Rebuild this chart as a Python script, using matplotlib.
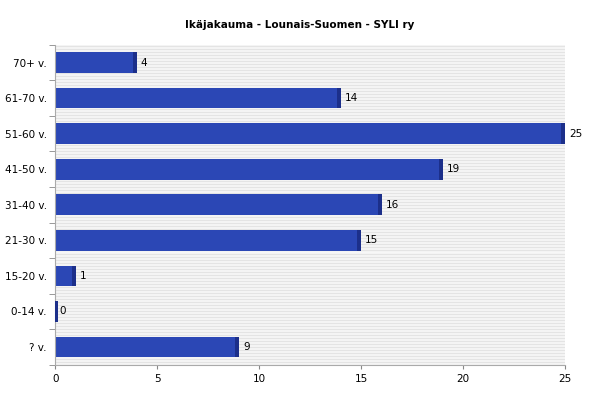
import numpy as np
import matplotlib.pyplot as plt

categories = ["70+ v.", "61-70 v.", "51-60 v.", "41-50 v.", "31-40 v.",
              "21-30 v.", "15-20 v.", "0-14 v.", "? v."]
counts = [4, 14, 25, 19, 16, 15, 1, 0, 9]

fig = plt.figure(figsize=(6, 4), dpi=100)
ax = fig.add_axes([0.092, 0.088, 0.85, 0.8])
n = len(categories)
ypos = np.arange(n)[::-1]

# striped background
ax.set_facecolor("#f7f7f7")
stripes = np.arange(0, 1, 0.0094)
ax.hlines(stripes, 0, 1, colors="#e4e4e4", lw=0.9, transform=ax.transAxes, zorder=0)

ax.barh(ypos, counts, height=0.58, color="#2b47b5", zorder=2)
# dark right edge band
edge = 0.2
ax.barh(ypos, [edge if c > 0 else 0.12 for c in counts],
        left=[max(c - edge, 0) for c in counts], height=0.58, color="#1c2f8a", zorder=3)
for y, c in zip(ypos, counts):
    ax.text(c + 0.2, y, str(c), va="center", fontsize=7.5, zorder=4, clip_on=False)

ax.set_xlim(0, 25)
ax.set_ylim(-0.5, n - 0.5)
ax.set_xticks([0, 5, 10, 15, 20, 25])
ax.set_yticks(ypos)
ax.set_yticklabels(categories)
ax.set_yticks(np.arange(n + 1) - 0.5, minor=True)
ax.tick_params(axis="y", which="major", length=0, labelsize=7.5, pad=6)
ax.tick_params(axis="y", which="minor", length=4, color="#888888")
ax.tick_params(axis="x", labelsize=7.5, length=3, color="#888888")
for s in ["top", "right"]:
    ax.spines[s].set_visible(False)
ax.spines["left"].set_color("#aaaaaa")
ax.spines["bottom"].set_color("#aaaaaa")
fig.suptitle("Ikäjakauma - Lounais-Suomen - SYLI ry", fontsize=7.5,
             fontweight="bold", y=0.95)
fig.savefig("out.png")
